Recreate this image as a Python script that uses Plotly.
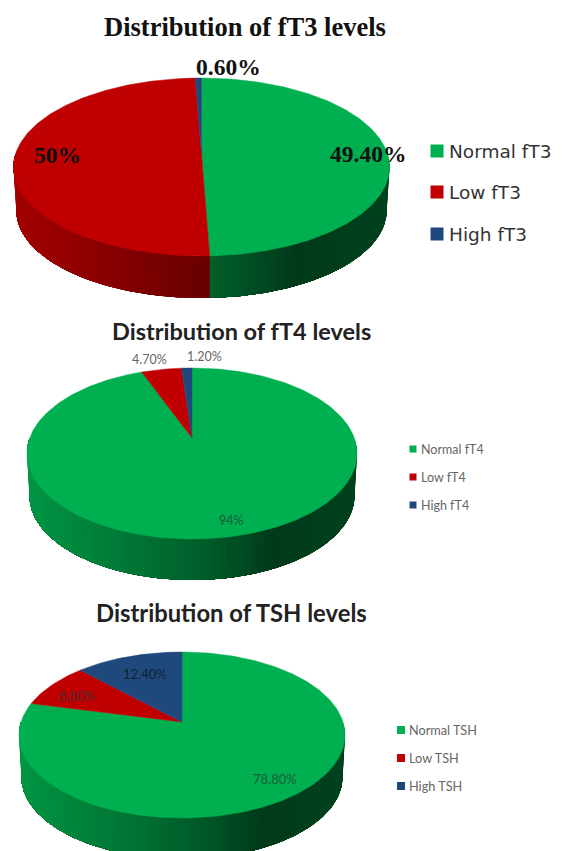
import numpy as np
import plotly.graph_objects as go

# ---- data ----
ft3_names = ["Normal fT3", "Low fT3", "High fT3"]
ft3_values = [49.4, 50.0, 0.6]
ft3_labels = ["49.40%", "50%", "0.60%"]

ft4_names = ["Normal fT4", "Low fT4", "High fT4"]
ft4_values = [94.0, 4.7, 1.2]
ft4_labels = ["94%", "4.70%", "1.20%"]

tsh_names = ["Normal TSH", "Low TSH", "High TSH"]
tsh_values = [78.8, 8.8, 12.4]
tsh_labels = ["78.80%", "8.80%", "12.40%"]

titles = ["Distribution of fT3 levels", "Distribution of fT4 levels", "Distribution of TSH levels"]

# ---- styles / layout ----
COLORS = [(0, 176, 80), (192, 0, 0), (31, 73, 125)]
SHADE_POS = [0.0, 0.3, 0.55, 0.75, 1.0]
SHADE_VAL = [0.85, 0.68, 0.52, 0.33, 0.38]
W, H = 563, 851

charts = [
    dict(names=ft3_names, values=ft3_values, labels=ft3_labels, title=titles[0],
         left=14, right=390, ax=201.5, top=78, bottom=256, ay=154, base=298,
         title_xy=(245, 27), title_font=dict(family="Liberation Serif", size=26.5, color="#111"),
         label_xy=[(368, 154), (57, 155), (228, 67)],
         label_font=dict(family="Liberation Serif", size=23.5),
         label_colors=["#111", "#111", "#111"],
         legend=dict(mx=437, tx=449, ys=[151, 192, 234], size=18.5, family="DejaVu Sans",
                     msize=13, color="#333")),
    dict(names=ft4_names, values=ft4_values, labels=ft4_labels, title=titles[1],
         left=27, right=357, ax=192, top=368, bottom=539, ay=438, base=580,
         title_xy=(241, 331), title_font=dict(family="Lato", size=23.5, color="#222"),
         label_xy=[(231, 520), (149, 359), (204, 356)],
         label_font=dict(family="Lato", size=12.5),
         label_colors=["#1d5a3a", "#666", "#666"],
         legend=dict(mx=413, tx=421, ys=[449, 477, 505], size=12.5, family="Lato",
                     msize=7, color="#666")),
    dict(names=tsh_names, values=tsh_values, labels=tsh_labels, title=titles[2],
         left=19, right=345, ax=182, top=652, bottom=818, ay=722, base=859,
         title_xy=(231, 613), title_font=dict(family="Lato", size=23.8, color="#222"),
         label_xy=[(275, 779), (77, 696), (145, 674)],
         label_font=dict(family="Lato", size=13),
         label_colors=["#1d5a3a", "#4a2a2a", "#123"],
         legend=dict(mx=401, tx=409, ys=[730, 758, 786], size=12.7, family="Lato",
                     msize=8, color="#666")),
]

fig = go.Figure()
annotations = []


def shade(rgb, f):
    k = np.interp(f, SHADE_POS, SHADE_VAL)
    return "rgb(%d,%d,%d)" % tuple(int(c * k) for c in rgb)


for idx, c in enumerate(charts):
    a = c["ay"] - c["top"]
    b = c["bottom"] - c["ay"]
    C = (b - a) / (a + b)
    A = a * (1 + C)
    rx = (c["right"] - c["left"]) / 2
    R = rx * np.sqrt(1 - C ** 2)
    s = 0.985
    depth = c["base"] - c["ay"] - s * b

    def proj(t):
        u, v = np.sin(t), np.cos(t)
        return R * u / (1 + C * v), A * v / (1 + C * v)

    fracs = np.array(c["values"], dtype=float)
    fracs = fracs / fracs.sum() * 2 * np.pi
    edges = np.concatenate([[0.0], np.cumsum(fracs)])

    # side wall: each band runs to the end of its slice and the next band paints over it
    vis_lo, vis_hi = np.pi / 2, 3 * np.pi / 2
    for i in range(3):
        lo, hi = max(edges[i], vis_lo), min(edges[i + 1], vis_hi)
        if hi <= lo:
            continue
        n = max(1, int((hi - lo) / np.radians(2.0)))
        ts = np.linspace(lo, hi, n + 1)
        for t0, t1 in zip(ts[:-1], ts[1:]):
            seg = np.linspace(t0, hi, max(4, int((hi - t0) / np.radians(1)) + 2))
            X, Y = proj(seg)
            xs = np.concatenate([c["ax"] + X, (c["ax"] + s * X)[::-1]])
            ys = np.concatenate([c["ay"] - Y, (c["ay"] - s * Y + depth)[::-1]])
            xm = c["ax"] + proj((t0 + t1) / 2)[0]
            f = (xm - c["left"]) / (c["right"] - c["left"])
            col = shade(COLORS[i], f)
            fig.add_trace(go.Scatter(x=xs, y=ys, mode="lines", fill="toself", fillcolor=col,
                                     line=dict(color=col, width=0), showlegend=False,
                                     hoverinfo="skip"))
    # top face
    for i in range(3):
        t = np.linspace(edges[i], edges[i + 1], max(3, int(fracs[i] / np.radians(1)) + 2))
        X, Y = proj(t)
        rgb = "rgb(%d,%d,%d)" % COLORS[i]
        fig.add_trace(go.Scatter(
            x=np.concatenate([[c["ax"]], c["ax"] + X, [c["ax"]]]),
            y=np.concatenate([[c["ay"]], c["ay"] - Y, [c["ay"]]]),
            mode="lines", fill="toself", fillcolor=rgb, line=dict(color=rgb, width=0.5),
            name=c["names"][i], showlegend=False, hoverinfo="name"))

    # key
    lg = c["legend"]
    for i in range(3):
        fig.add_trace(go.Scatter(x=[lg["mx"]], y=[lg["ys"][i]], mode="markers", name=c["names"][i],
                                 showlegend=False, hoverinfo="name",
                                 marker=dict(symbol="square", size=lg["msize"],
                                             color="rgb(%d,%d,%d)" % COLORS[i])))
        annotations.append(dict(x=lg["tx"], y=lg["ys"][i], xref="x", yref="y", xanchor="left",
                                text=c["names"][i], showarrow=False, xshift=-2,
                                font=dict(family=lg["family"], size=lg["size"], color=lg["color"])))

    # texts
    annotations.append(dict(x=c["title_xy"][0], y=c["title_xy"][1], xref="x", yref="y",
                            text="<b>%s</b>" % c["title"], showarrow=False, font=c["title_font"]))
    for lab, (lx, ly), lc in zip(c["labels"], c["label_xy"], c["label_colors"]):
        txt = "<b>%s</b>" % lab if idx == 0 else lab
        annotations.append(dict(x=lx, y=ly, xref="x", yref="y", text=txt, showarrow=False,
                                font=dict(color=lc, **c["label_font"])))

fig.update_layout(
    width=W, height=H, margin=dict(l=0, r=0, t=0, b=0),
    paper_bgcolor="white", plot_bgcolor="white",
    xaxis=dict(range=[0, W], visible=False, fixedrange=True),
    yaxis=dict(range=[H, 0], visible=False, fixedrange=True),
    annotations=annotations)

fig.write_html("out.html", config=dict(displayModeBar=False),
               post_script="document.body.style.margin='0';document.body.style.overflow='hidden';")
